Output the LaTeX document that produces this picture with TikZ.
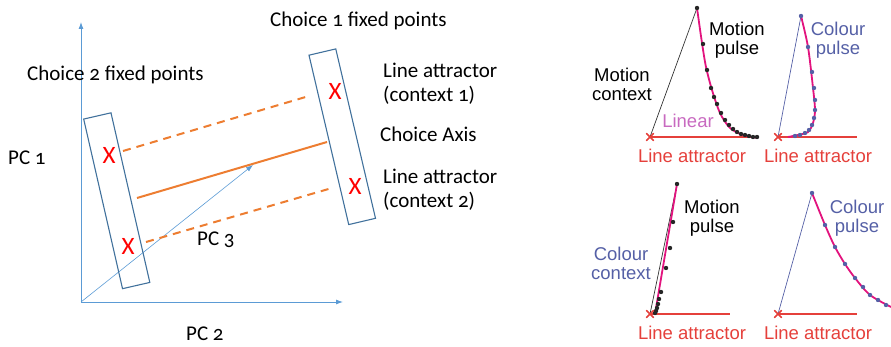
\documentclass[tikz,border=0pt]{standalone}
\usepackage{fontspec}
\setmainfont[Numbers=OldStyle]{Carlito}
\newfontfamily\panelfont{Liberation Sans}
\usetikzlibrary{shapes.misc,arrows.meta}

\definecolor{axisblue}{HTML}{5B9BD5}
\definecolor{boxblue}{HTML}{41719C}
\definecolor{choiceorange}{HTML}{ED7D31}
\definecolor{attred}{HTML}{E5403B}
\definecolor{curvemag}{HTML}{E2137E}
\definecolor{colourblue}{HTML}{5560A6}
\definecolor{linearpink}{HTML}{C86AC0}

\begin{document}
\begin{tikzpicture}[
    x=1pt, y=-1pt,
    pcaxis/.style={axisblue, line width=0.9pt, -{Latex[length=7pt,width=5pt]}},
    fixbox/.style={rectangle, draw=boxblue, line width=1.1pt, minimum width=28pt, minimum height=174pt},
    xfix/.style={text=red, font=\fontsize{25}{25}\selectfont, inner sep=0pt},
    lbl/.style={font=\fontsize{21}{24}\selectfont, align=left, inner sep=0pt, anchor=west},
    dashorange/.style={choiceorange, line width=2pt, dash pattern=on 8pt off 6pt},
    solidorange/.style={choiceorange, line width=2pt},
    paneltxt/.style={font=\panelfont\fontsize{18.5}{19}\selectfont, align=center, inner sep=0pt},
    xmark/.style={cross out, draw=attred, line width=1.3pt, minimum size=6pt, inner sep=0pt},
    attline/.style={attred, line width=1.8pt},
    thinline/.style={line width=0.7pt},
    magcurve/.style={curvemag, line width=1.8pt}
]
    \useasboundingbox (0,0) rectangle (891,347);

    % principal component axes
    \coordinate (origin) at (81,302);
    \coordinate (pc1end) at (81,22);
    \coordinate (pc2end) at (343,302);
    \coordinate (pc3end) at (253,165);
    \draw[pcaxis] (origin) -- (pc1end);
    \draw[pcaxis] (origin) -- (pc2end);
    \draw[pcaxis, line width=0.6pt] (origin) -- (pc3end);

    \node[fixbox, rotate=12.9] (box2) at (116.75,200.75) {};
    \node[fixbox, rotate=13.2, minimum width=27.5pt] (box1) at (342.25,136.75) {};

    \node[xfix] (xl1) at (109,155) {X};
    \node[xfix] (xl2) at (128,246) {X};
    \node[xfix] (xr1) at (335,91) {X};
    \node[xfix] (xr2) at (355,186) {X};

    \coordinate (up1) at (123,151);
    \coordinate (up2) at (309,96);
    \coordinate (ax1) at (137,198);
    \coordinate (ax2) at (327,142);
    \coordinate (lo1) at (146,242);
    \coordinate (lo2) at (332,188);
    \draw[dashorange] (up1) -- (up2);
    \draw[solidorange] (ax1) -- (ax2);
    \draw[dashorange] (lo1) -- (lo2);

    \node[lbl] (choice1) at (270,21) {Choice 1 fixed points};
    \node[lbl] (choice2) at (27,75) {Choice 2 fixed points};
    \node[lbl] (pc1) at (8,158) {PC 1};
    \node[lbl] (pc2) at (186,334) {PC 2};
    \node[lbl] (pc3) at (197,240) {PC 3};
    \node[lbl] (la1) at (383,84) {Line attractor\\(context 1)};
    \node[lbl] (caxis) at (380,134) {Choice Axis};
    \node[lbl] (la2) at (383,190) {Line attractor\\(context 2)};

    % panel: motion context, motion pulse
    \node[xmark] (xa) at (650,137) {};
    \coordinate (ea) at (758,137);
    \coordinate (pa) at (697,8);
    \draw[attline] (xa.center) -- (ea);
    \draw[thinline, black!80] (xa.center) -- (pa);
    \draw[magcurve] plot[smooth] coordinates {(697,8) (702,43) (706,67) (712,90) (720,113) (730,128) (743,135) (758,138)};
    \foreach \px/\py in {697/8, 703/44, 707/70, 711/88, 714/97, 717/104, 721/113, 725/120, 729/125, 733/129, 737/132, 741/134, 745/135, 749/136, 753/137, 757/137}
        \fill[black!85] (\px,\py) circle (2.2pt);
    \node[xmark] at (xa) {};

    \node[paneltxt] (mpa) at (737,40) {Motion\\pulse};
    \node[paneltxt] (mca) at (622,84) {Motion\\context};
    \node[paneltxt, text=linearpink] (lin) at (688,121) {Linear};
    \node[paneltxt, text=attred] (laa) at (692,156) {Line attractor};

    % panel: motion context, colour pulse
    \node[xmark] (xb) at (778,137) {};
    \coordinate (eb) at (857,137);
    \coordinate (pb) at (801,16);
    \draw[attline] (xb.center) -- (eb);
    \draw[thinline, colourblue] (xb.center) -- (pb);
    \draw[magcurve] plot[smooth] coordinates {(801,16) (808,47) (813,88) (815,110) (813,123) (808,132) (798,135) (788,137)};
    \foreach \px/\py in {801/16, 808/47, 812/72, 814/88, 815/100, 815/110, 814/118, 812/125, 809/130, 805/133, 800/135, 795/136}
        \fill[colourblue] (\px,\py) circle (2.2pt);
    \node[xmark] at (xb) {};

    \node[paneltxt, text=colourblue] (cpb) at (838,40) {Colour\\pulse};
    \node[paneltxt, text=attred] (lab) at (818,156) {Line attractor};

    % panel: colour context, motion pulse
    \node[xmark] (xc) at (650,314) {};
    \coordinate (ec) at (730,314);
    \coordinate (pc) at (677,184);
    \draw[attline] (xc.center) -- (ec);
    \draw[thinline, black!80] (xc.center) -- (pc);
    \draw[magcurve] (655,314) -- (pc);
    \foreach \px/\py in {677/184, 673/222, 670/248, 666/268, 661/292, 659/299, 658/304, 657/308, 656/311, 655/313}
        \fill[black!85] (\px,\py) circle (2.2pt);
    \node[xmark] at (xc) {};

    \node[paneltxt] (mpc) at (712,218) {Motion\\pulse};
    \node[paneltxt, text=colourblue] (ccc) at (621,263) {Colour\\context};
    \node[paneltxt, text=attred] (lac) at (692,333) {Line attractor};

    % panel: colour context, colour pulse
    \node[xmark] (xd) at (778,314) {};
    \coordinate (ed) at (857,314);
    \coordinate (pd) at (812,193);
    \draw[attline] (xd.center) -- (ed);
    \draw[thinline, colourblue] (xd.center) -- (pd);
    \draw[magcurve] plot[smooth] coordinates {(812,193) (825,225) (835,247) (845,264) (855,278) (870,295) (891,307)};
    \foreach \px/\py in {812/193, 825/225, 835/247, 845/264, 855/278, 863/287, 870/295, 878/300, 886/305}
        \fill[colourblue] (\px,\py) circle (2.2pt);
    \node[xmark] at (xd) {};

    \node[paneltxt, text=colourblue] (cpd) at (857,218) {Colour\\pulse};
    \node[paneltxt, text=attred] (lad) at (818,333) {Line attractor};
\end{tikzpicture}
\end{document}
